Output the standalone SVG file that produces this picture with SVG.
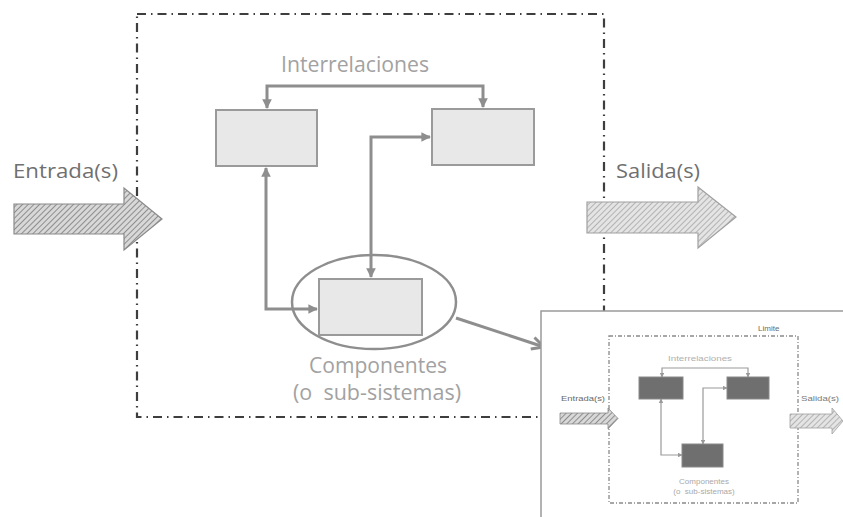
<svg xmlns="http://www.w3.org/2000/svg" width="843" height="517" viewBox="0 0 843 517">
<style>
.border{fill:none;stroke:#3e3e3e;stroke-width:2.2;stroke-dasharray:9 5 1.5 5}
.box{fill:#e8e8e8;stroke:#9a9a9a;stroke-width:2}
.conn{fill:none;stroke:#8e8e8e;stroke-width:3}
.lbl{font-family:"Open Sans","Liberation Sans",sans-serif;fill:#a2a2a2}
.io{font-family:"Open Sans","Liberation Sans",sans-serif;fill:#707070}
.mini{fill:none;stroke:#9a9a9a;stroke-width:1.2}
.miniBox{fill:#6f6f6f;stroke:#8a8a8a;stroke-width:1}
.miniTxt{font-family:"Liberation Sans",sans-serif;font-size:8px}
</style>
<defs>
<pattern id="hatchDark" width="4" height="4" patternUnits="userSpaceOnUse" patternTransform="rotate(45)">
<rect width="4" height="4" fill="#d8d8d8"/>
<line x1="0" y1="0" x2="0" y2="4" stroke="#7a7a7a" stroke-width="1.6"/>
</pattern>
<pattern id="hatchLight" width="4" height="4" patternUnits="userSpaceOnUse" patternTransform="rotate(45)">
<rect width="4" height="4" fill="#e4e4e4"/>
<line x1="0" y1="0" x2="0" y2="4" stroke="#9c9c9c" stroke-width="1.4"/>
</pattern>
<marker id="ah" viewBox="0 0 10 10" refX="9" refY="5" markerWidth="3.2" markerHeight="3.2" orient="auto-start-reverse" markerUnits="strokeWidth">
<path d="M0,0 L10,5 L0,10 z" fill="#8e8e8e"/>
</marker>
<marker id="ahBig" viewBox="0 0 10 10" refX="9" refY="5" markerWidth="5" markerHeight="5" orient="auto" markerUnits="strokeWidth">
<path d="M1,1 L9,5 L1,9" fill="none" stroke="#8e8e8e" stroke-width="2"/>
</marker>
<marker id="ahMini" viewBox="0 0 10 10" refX="9" refY="5" markerWidth="4" markerHeight="4" orient="auto-start-reverse" markerUnits="strokeWidth">
<path d="M0,0 L10,5 L0,10 z" fill="#9a9a9a"/>
</marker>
</defs>

<!-- system boundary -->
<rect id="boundary" class="border" x="137" y="14" width="467" height="403"/>

<!-- inputs / outputs -->
<g id="entrada">
<text class="io" x="13" y="178" font-size="20" textLength="105" lengthAdjust="spacingAndGlyphs">Entrada(s)</text>
<path d="M14,204 H124 V188 L162,219 L124,250 V234 H14 z" fill="url(#hatchDark)" stroke="#8a8a8a" stroke-width="1.2"/>
</g>
<g id="salida">
<text class="io" x="616" y="178" font-size="20" textLength="84" lengthAdjust="spacingAndGlyphs">Salida(s)</text>
<path d="M587,202 H698 V187 L736,217 L698,248 V233 H587 z" fill="url(#hatchLight)" stroke="#a0a0a0" stroke-width="1.2"/>
</g>

<!-- nodes -->
<g id="interrelaciones">
<text class="lbl" x="281" y="72" font-size="21" textLength="148" lengthAdjust="spacingAndGlyphs">Interrelaciones</text>
</g>
<g id="box-left"><rect class="box" x="216" y="110" width="101" height="56"/></g>
<g id="box-right"><rect class="box" x="432" y="109" width="102" height="56"/></g>
<g id="box-comp">
<ellipse cx="374" cy="302" rx="82" ry="47" fill="none" stroke="#8e8e8e" stroke-width="2.5"/>
<rect class="box" x="319" y="279" width="103" height="56"/>
<text class="lbl" x="309" y="373" font-size="21" textLength="138" lengthAdjust="spacingAndGlyphs">Componentes</text>
<text class="lbl" x="293" y="400" font-size="21" textLength="168" lengthAdjust="spacingAndGlyphs">(o&#160; sub-sistemas)</text>
</g>

<!-- connectors -->
<g id="connectors">
<path class="conn" d="M267,108 V86 H483 V107" marker-start="url(#ah)" marker-end="url(#ah)"/>
<path class="conn" d="M266,168 V309 H317" marker-start="url(#ah)" marker-end="url(#ah)"/>
<path class="conn" d="M371,277 V137 H430" marker-start="url(#ah)" marker-end="url(#ah)"/>
<path class="conn" d="M456,318 L544,347" marker-end="url(#ahBig)"/>
</g>

<!-- inset: miniature of the system -->
<g id="inset">
<rect x="541" y="311" width="304" height="208" fill="#ffffff" stroke="#9a9a9a" stroke-width="1.5"/>
<rect x="609" y="336" width="189" height="167" fill="none" stroke="#8a8a8a" stroke-width="1.3" stroke-dasharray="4 2 1 2"/>
<text class="miniTxt" x="758" y="331" fill="#6a6a6a">Limite</text>
<text class="miniTxt" x="668" y="361" textLength="64" lengthAdjust="spacingAndGlyphs" fill="#b0b0b0">Interrelaciones</text>
<path class="mini" d="M662,377 V368 H748 V377" marker-start="url(#ahMini)" marker-end="url(#ahMini)"/>
<path class="mini" d="M661,399 V455 H682" marker-start="url(#ahMini)" marker-end="url(#ahMini)"/>
<path class="mini" d="M703,444 V388 H727" marker-start="url(#ahMini)" marker-end="url(#ahMini)"/>
<rect class="miniBox" x="639" y="377" width="44" height="22"/>
<rect class="miniBox" x="727" y="377" width="42" height="22"/>
<rect class="miniBox" x="682" y="444" width="41" height="23"/>
<text class="miniTxt" x="704" y="484" text-anchor="middle" fill="#a8a8a8">Componentes</text>
<text class="miniTxt" x="704" y="494" text-anchor="middle" fill="#a8a8a8">(o&#160; sub-sistemas)</text>
<text class="miniTxt" x="561" y="401" textLength="44" lengthAdjust="spacingAndGlyphs" fill="#6a6a6a">Entrada(s)</text>
<path d="M560,413 H608 V408 L618,418.5 L608,429 V424 H560 z" fill="url(#hatchDark)" stroke="#8a8a8a" stroke-width="0.8"/>
<text class="miniTxt" x="801" y="401" textLength="38" lengthAdjust="spacingAndGlyphs" fill="#7a7a7a">Salida(s)</text>
<path d="M790,414 H832 V408 L843,421 L832,434 V428 H790 z" fill="url(#hatchLight)" stroke="#a0a0a0" stroke-width="0.8"/>
</g>
</svg>
